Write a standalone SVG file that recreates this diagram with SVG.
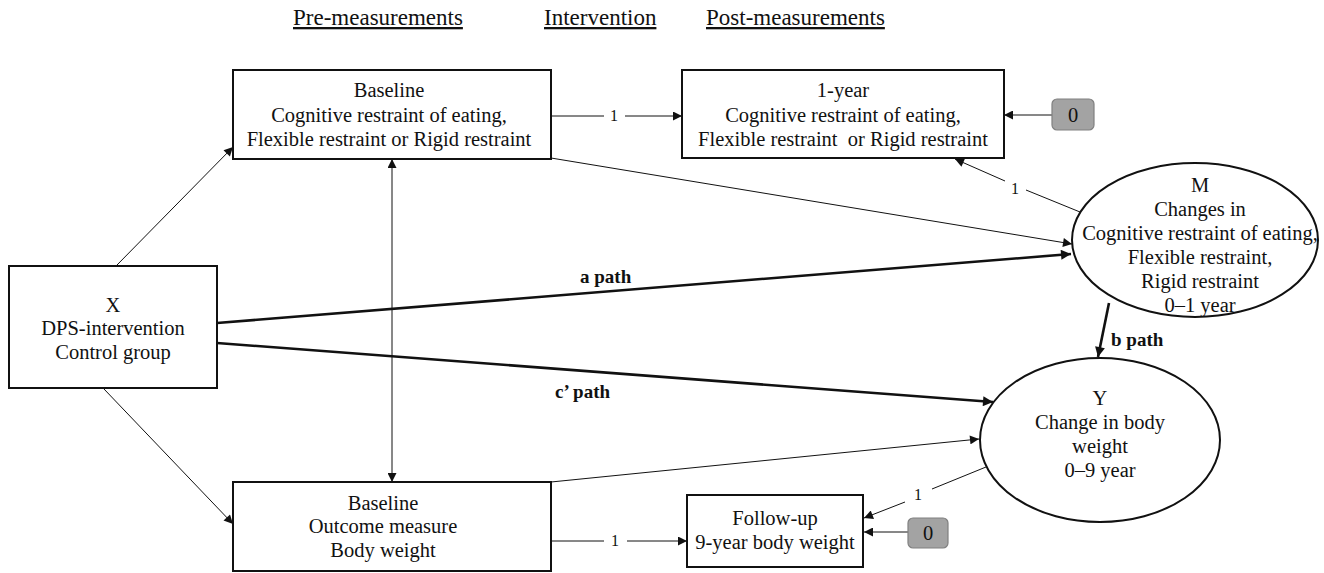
<svg xmlns="http://www.w3.org/2000/svg" width="1324" height="573" viewBox="0 0 1324 573">
<style>
  text { font-family: "Liberation Serif", "Times New Roman", serif; fill: #111; }
  .n { font-size: 20.5px; text-anchor: middle; }
  .h { font-size: 23px; text-decoration: underline; }
  .lbl { font-size: 16px; text-anchor: middle; }
  .bold { font-size: 19px; font-weight: bold; }
  .box { fill: #fff; stroke: #111; stroke-width: 2; }
  .gray { fill: #a3a3a3; stroke: #808080; stroke-width: 1.2; }
  .thin { stroke: #111; stroke-width: 1; fill: none; }
  .thick { stroke: #111; stroke-width: 2.6; fill: none; }
</style>
<defs>
  <marker id="ah" viewBox="0 0 10 10" refX="10" refY="5" markerWidth="11" markerHeight="9" markerUnits="userSpaceOnUse" orient="auto-start-reverse">
    <path d="M0,0 L10,5 L0,10 z" fill="#111"/>
  </marker>
  <marker id="ahk" viewBox="0 0 10 10" refX="10" refY="5" markerWidth="13" markerHeight="10" markerUnits="userSpaceOnUse" orient="auto">
    <path d="M0,0 L10,5 L0,10 z" fill="#111"/>
  </marker>
</defs>

<g id="headers">
  <text class="h" x="293" y="25">Pre-measurements</text>
  <text class="h" x="544" y="25">Intervention</text>
  <text class="h" x="706" y="25">Post-measurements</text>
</g>

<g id="connectors">
  <line class="thin" x1="117" y1="265" x2="233" y2="147" marker-end="url(#ah)"/>
  <line class="thin" x1="104" y1="389" x2="233" y2="524" marker-end="url(#ah)"/>
  <line class="thin" x1="392" y1="159" x2="392" y2="482" marker-start="url(#ah)" marker-end="url(#ah)"/>
  <line class="thin" x1="551" y1="116" x2="604" y2="116"/>
  <text class="lbl" x="614" y="121">1</text>
  <line class="thin" x1="625" y1="116" x2="682" y2="116" marker-end="url(#ah)"/>
  <line class="thin" x1="1052" y1="115" x2="1004" y2="115" marker-end="url(#ah)"/>
  <line class="thin" x1="551" y1="158" x2="1072" y2="244" marker-end="url(#ah)"/>
  <line class="thin" x1="1080" y1="212" x2="1026" y2="190"/>
  <text class="lbl" x="1015" y="194">1</text>
  <line class="thin" x1="1005" y1="181" x2="955" y2="159" marker-end="url(#ah)"/>
  <line class="thick" x1="217" y1="323" x2="1071" y2="254" marker-end="url(#ahk)"/>
  <text class="bold" x="580" y="283">a path</text>
  <line class="thick" x1="217" y1="343" x2="993" y2="402" marker-end="url(#ahk)"/>
  <text class="bold" x="555" y="398">c’ path</text>
  <line class="thick" x1="1109" y1="303" x2="1098" y2="357" marker-end="url(#ahk)"/>
  <text class="bold" x="1111" y="346">b path</text>
  <line class="thin" x1="551" y1="482" x2="979" y2="439" marker-end="url(#ah)"/>
  <line class="thin" x1="551" y1="541" x2="604" y2="541"/>
  <text class="lbl" x="615" y="546">1</text>
  <line class="thin" x1="627" y1="541" x2="687" y2="541" marker-end="url(#ah)"/>
  <line class="thin" x1="986" y1="467" x2="932" y2="489"/>
  <text class="lbl" x="918" y="500">1</text>
  <line class="thin" x1="905" y1="502" x2="864" y2="518" marker-end="url(#ah)"/>
  <line class="thin" x1="908" y1="532" x2="864" y2="532" marker-end="url(#ah)"/>
</g>

<g id="node-baseline-restraint">
  <rect class="box" x="233" y="70" width="318" height="89"/>
  <text class="n" x="389" y="97">Baseline</text>
  <text class="n" x="389" y="122">Cognitive restraint of eating,</text>
  <text class="n" x="389" y="146">Flexible restraint or Rigid restraint</text>
</g>

<g id="node-1year">
  <rect class="box" x="682" y="70" width="322" height="88"/>
  <text class="n" x="843" y="97">1-year</text>
  <text class="n" x="843" y="122">Cognitive restraint of eating,</text>
  <text class="n" x="843" y="146" xml:space="preserve">Flexible restraint  or Rigid restraint</text>
</g>

<g id="node-zero-top">
  <rect class="gray" x="1052" y="99" width="42" height="31" rx="5"/>
  <text class="n" x="1073" y="122">0</text>
</g>

<g id="node-x">
  <rect class="box" x="9" y="266" width="208" height="122"/>
  <text class="n" x="113" y="312">X</text>
  <text class="n" x="113" y="335">DPS-intervention</text>
  <text class="n" x="113" y="359">Control group</text>
</g>

<g id="node-m">
  <ellipse class="box" cx="1195" cy="240" rx="123" ry="77"/>
  <text class="n" x="1200" y="192">M</text>
  <text class="n" x="1200" y="216">Changes in</text>
  <text class="n" x="1200" y="240">Cognitive restraint of eating,</text>
  <text class="n" x="1200" y="264">Flexible restraint,</text>
  <text class="n" x="1200" y="288">Rigid restraint</text>
  <text class="n" x="1200" y="312">0–1 year</text>
</g>

<g id="node-y">
  <ellipse class="box" cx="1100" cy="440" rx="120" ry="82"/>
  <text class="n" x="1100" y="405">Y</text>
  <text class="n" x="1100" y="429">Change in body</text>
  <text class="n" x="1100" y="453">weight</text>
  <text class="n" x="1100" y="477">0–9 year</text>
</g>

<g id="node-baseline-weight">
  <rect class="box" x="233" y="482" width="318" height="89"/>
  <text class="n" x="383" y="510">Baseline</text>
  <text class="n" x="383" y="533">Outcome measure</text>
  <text class="n" x="383" y="557">Body weight</text>
</g>

<g id="node-followup">
  <rect class="box" x="687" y="495" width="176" height="72"/>
  <text class="n" x="775" y="525">Follow-up</text>
  <text class="n" x="775" y="549">9-year body weight</text>
</g>

<g id="node-zero-bottom">
  <rect class="gray" x="908" y="518" width="40" height="30" rx="5"/>
  <text class="n" x="928" y="540">0</text>
</g>
</svg>
